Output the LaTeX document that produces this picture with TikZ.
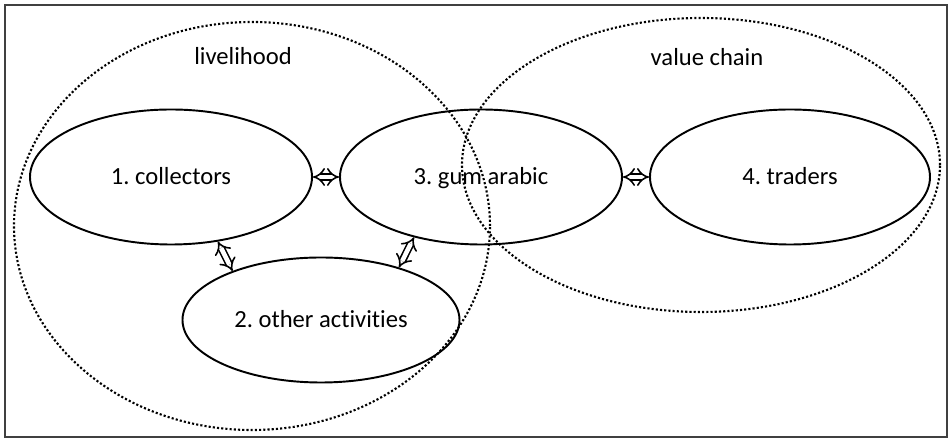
\documentclass[tikz,border=0pt]{standalone}
\usepackage{fontspec}
\setmainfont{Carlito}[Ligatures=NoCommon]
\frenchspacing
\usetikzlibrary{shapes,arrows.meta}
\tikzset{
	>=latex,
	actor/.style={draw, ellipse, line width=1.1pt, inner sep=0pt, minimum width=5.64cm, minimum height=2.7cm, text height=1.9ex, text depth=0pt, font=\fontsize{14}{16}\selectfont},
	area/.style={draw, ellipse, line width=1.2pt, dash pattern=on 1.2pt off 1.2pt, inner sep=0pt},
	link/.style={double, double distance=2.6pt, line width=0.9pt, {Implies[scale=1.2]}-{Implies[scale=1.2]}}
}
\begin{document}
\begin{tikzpicture}
			\useasboundingbox (0,0) rectangle (18.98,8.78);
			\draw [line width=1.4pt, black!75] (0.1,0.04) rectangle (18.94,8.68);
			\node [area, minimum width=9.52cm, minimum height=8.16cm] (live) at (5.04,4.26) {};
			\node [area, minimum width=9.56cm, minimum height=5.88cm] (chain) at (14.02,5.48) {};
			\node [font=\fontsize{14}{16}\selectfont] (livelabel) at (4.86,7.66) {livelihood};
			\node [font=\fontsize{14}{16}\selectfont] (chainlabel) at (14.14,7.64) {value chain};
			\node [actor] (coll) at (3.42,5.24) {1. collectors};
			\node [actor] (gum) at (9.62,5.24) {3. gum arabic};
			\node [actor, minimum width=5.6cm] (trad) at (15.8,5.24) {4. traders};
			\node [actor, minimum width=5.54cm, minimum height=2.5cm] (other) at (6.42,2.38) {2. other activities};
			\draw [link] (coll) -- (gum);
			\draw [link] (gum) -- (trad);
			\draw [link] (coll.-54) -- (other.151);
			\draw [link] (gum.-138) -- (other.34);
		\end{tikzpicture}
\end{document}
